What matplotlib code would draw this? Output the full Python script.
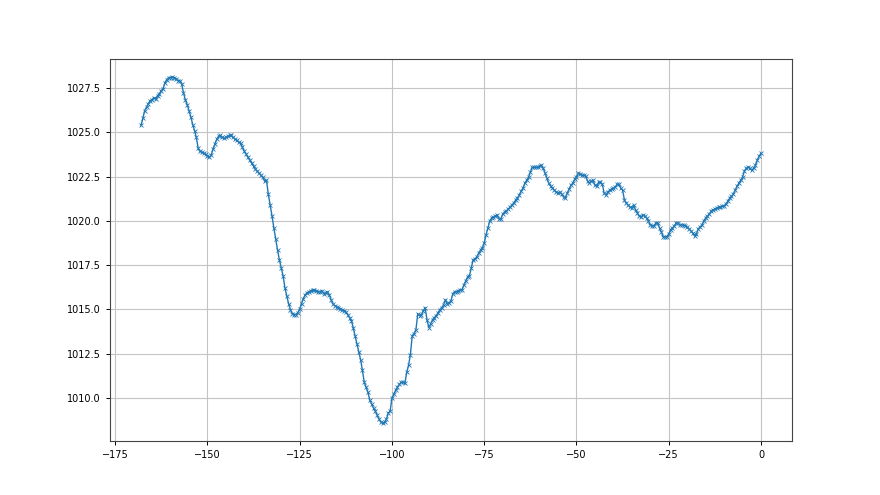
import numpy as np
import matplotlib
matplotlib.use("Agg")
import matplotlib.pyplot as plt

# hours before now, half-hour steps
hours = np.arange(-168, 0.01, 0.5)

pressure = [
    1025.39, 1025.78, 1026.23, 1026.43, 1026.62, 1026.79, 1026.85, 1026.96, 1026.90, 1027.07,
    1027.19, 1027.36, 1027.47, 1027.81, 1027.98, 1028.09, 1028.09, 1028.14, 1028.09, 1028.03,
    1027.92, 1027.92, 1027.75, 1027.24, 1026.85, 1026.57, 1026.23, 1025.89, 1025.44, 1025.10,
    1024.71, 1024.09, 1023.92, 1023.87, 1023.81, 1023.75, 1023.64, 1023.59, 1023.70, 1024.04,
    1024.32, 1024.60, 1024.77, 1024.82, 1024.71, 1024.65, 1024.71, 1024.77, 1024.82, 1024.82,
    1024.71, 1024.60, 1024.54, 1024.43, 1024.37, 1024.15, 1023.92, 1023.75, 1023.59, 1023.42,
    1023.25, 1023.08, 1022.91, 1022.80, 1022.69, 1022.57, 1022.46, 1022.24, 1022.29, 1021.50,
    1020.89, 1020.27, 1019.59, 1018.97, 1018.35, 1017.79, 1017.34, 1016.89, 1016.21, 1015.76,
    1015.31, 1014.98, 1014.75, 1014.70, 1014.70, 1014.81, 1015.03, 1015.31, 1015.60, 1015.82,
    1015.93, 1015.99, 1016.05, 1016.10, 1016.10, 1016.05, 1015.99, 1015.99, 1016.05, 1015.88,
    1015.93, 1015.99, 1015.82, 1015.54, 1015.31, 1015.20, 1015.14, 1015.09, 1015.03, 1014.98,
    1014.92, 1014.86, 1014.70, 1014.53, 1014.36, 1013.96, 1013.51, 1013.06, 1012.61, 1012.16,
    1011.54, 1010.87, 1010.59, 1010.31, 1009.86, 1009.63, 1009.41, 1009.24, 1009.01, 1008.79,
    1008.62, 1008.56, 1008.62, 1008.79, 1009.13, 1009.24, 1009.97, 1010.19, 1010.42, 1010.59,
    1010.76, 1010.87, 1010.87, 1010.81, 1011.43, 1011.83, 1012.44, 1013.51, 1013.63, 1013.85,
    1014.75, 1014.64, 1014.70, 1014.92, 1015.09, 1014.41, 1013.96, 1014.19, 1014.41, 1014.53,
    1014.64, 1014.81, 1014.98, 1015.09, 1015.26, 1015.54, 1015.31, 1015.37, 1015.48, 1015.88,
    1015.99, 1015.99, 1016.05, 1016.10, 1016.10, 1016.38, 1016.61, 1016.83, 1016.89, 1017.34,
    1017.79, 1017.85, 1017.96, 1018.18, 1018.35, 1018.47, 1018.75, 1019.20, 1019.59, 1019.99,
    1020.16, 1020.21, 1020.27, 1020.33, 1020.10, 1020.10, 1020.38, 1020.49, 1020.55, 1020.66,
    1020.77, 1020.89, 1021.00, 1021.17, 1021.28, 1021.45, 1021.67, 1021.84, 1022.12, 1022.29,
    1022.46, 1022.74, 1023.02, 1023.02, 1023.02, 1023.02, 1023.08, 1023.14, 1022.97, 1022.69,
    1022.40, 1022.12, 1021.95, 1021.84, 1021.73, 1021.62, 1021.56, 1021.62, 1021.50, 1021.34,
    1021.28, 1021.56, 1021.78, 1022.01, 1022.12, 1022.35, 1022.46, 1022.69, 1022.63, 1022.57,
    1022.57, 1022.52, 1022.24, 1022.12, 1022.24, 1022.29, 1022.01, 1021.95, 1022.18, 1022.18,
    1022.07, 1021.56, 1021.45, 1021.62, 1021.73, 1021.78, 1021.84, 1021.90, 1022.07, 1022.07,
    1021.84, 1021.73, 1021.17, 1021.00, 1020.89, 1020.77, 1020.72, 1020.89, 1020.61, 1020.44,
    1020.27, 1020.21, 1020.33, 1020.27, 1020.16, 1019.99, 1019.76, 1019.71, 1019.71, 1019.88,
    1019.88, 1019.59, 1019.37, 1019.09, 1019.09, 1019.09, 1019.26, 1019.48, 1019.59, 1019.71,
    1019.88, 1019.88, 1019.76, 1019.76, 1019.76, 1019.71, 1019.65, 1019.54, 1019.43, 1019.31,
    1019.14, 1019.26, 1019.54, 1019.65, 1019.76, 1019.99, 1020.16, 1020.27, 1020.38, 1020.55,
    1020.61, 1020.66, 1020.72, 1020.77, 1020.77, 1020.83, 1020.83, 1020.94, 1021.11, 1021.28,
    1021.39, 1021.50, 1021.73, 1021.95, 1022.12, 1022.29, 1022.46, 1022.80, 1022.97, 1023.02,
    1022.97, 1022.85, 1022.97, 1023.14, 1023.42, 1023.65, 1023.81,
]

fig, ax = plt.subplots(figsize=(8.8, 4.95), dpi=100)
ax.plot(hours, pressure, marker='x', markersize=3.5, linewidth=1, markeredgewidth=0.6)
ax.grid(True, color='#c4c4c4', linewidth=0.8)
ax.tick_params(labelsize=7, width=0.7, length=3)
for sp in ax.spines.values():
    sp.set_color('#444444')
fig.savefig('out.png', dpi=100)
